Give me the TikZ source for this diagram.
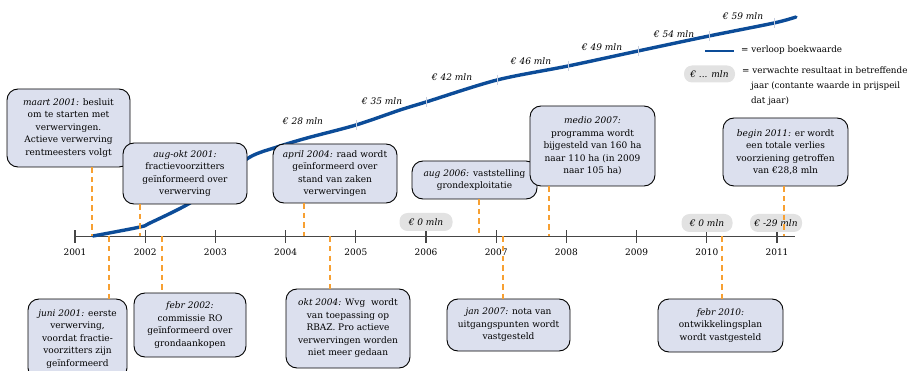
\documentclass[tikz,border=0pt]{standalone}
\usepackage{fontspec}
\setmainfont{DejaVu Serif}
\usepackage{xcolor}
\usetikzlibrary{positioning, calc}
\definecolor{boxfill}{RGB}{220,224,238}
\definecolor{pillgrey}{RGB}{226,226,226}
\definecolor{dashorange}{RGB}{247,160,50}
\definecolor{bookblue}{RGB}{12,76,152}
\definecolor{axisgrey}{RGB}{70,70,70}
\definecolor{ticklight}{RGB}{200,206,222}
\newcommand{\evfont}{\fontsize{9}{12.5}\selectfont}
\newcommand{\legfont}{\fontsize{8.8}{15}\selectfont}
\tikzstyle{event} = [rectangle, rounded corners=11pt, draw=black, line width=0.9pt, fill=boxfill, align=center, inner sep=0pt, font=\evfont]
\tikzstyle{pill} = [rectangle, rounded corners=8pt, fill=pillgrey, minimum height=18pt, inner sep=0pt, font=\evfont\itshape]
\tikzstyle{link} = [dashorange, line width=1.4pt, dash pattern=on 5.5pt off 4pt]
\tikzstyle{axis} = [axisgrey, line width=1.3pt]
\tikzstyle{growth} = [bookblue, line width=3.4pt]
\tikzstyle{bwlabel} = [inner sep=0pt, font=\evfont\itshape]
\tikzstyle{year} = [inner sep=0pt, font=\evfont]

\begin{document}
\begin{tikzpicture}[x=1pt, y=-1pt]
    \useasboundingbox (0,0) rectangle (912,371);

    % Time axis
    \coordinate (axstart) at (75,236.5);
    \coordinate (axend) at (795,236.5);
    \draw [axis] (axstart) -- (axend);
    \foreach \yr [count=\i from 0] in {2001,...,2011} {
        \coordinate (y\yr) at ({75+70.2*\i},236.5);
        \draw [axis] ($(y\yr)+(0,-6)$) -- ($(y\yr)+(0,6.5)$);
        \node (lbl\yr) [year, below=12.5pt of y\yr] {\yr};
    }

    % Book value
    \draw [growth, line cap=round] plot [smooth, tension=0.5] coordinates {(93,236) (140,227) (150,223) (190,203) (220,180) (250,157) (277,147) (307,138) (356,125) (400,110) (426,102) (497,80) (568,66) (638,51) (709,36) (774,23) (796,17)};
    \draw [ticklight, line width=0.8pt] (356,120) -- (356,130);
    \draw [ticklight, line width=0.8pt] (426,97) -- (426,107);
    \draw [ticklight, line width=0.8pt] (497,75) -- (497,85);
    \draw [ticklight, line width=0.8pt] (568,61) -- (568,71);
    \draw [ticklight, line width=0.8pt] (638,46) -- (638,56);
    \draw [ticklight, line width=0.8pt] (709,31) -- (709,41);
    \draw [ticklight, line width=0.8pt] (774,18) -- (774,28);
    \node (bw2005) [bwlabel] at (303,121) {€ 28 mln};
    \node (bw2006) [bwlabel] at (382,101) {€ 35 mln};
    \node (bw2007) [bwlabel] at (452,77) {€ 42 mln};
    \node (bw2008) [bwlabel] at (531,61) {€ 46 mln};
    \node (bw2009) [bwlabel] at (602,47) {€ 49 mln};
    \node (bw2010) [bwlabel] at (674,34) {€ 54 mln};
    \node (bw2011) [bwlabel] at (743,16) {€ 59 mln};

    % Expected result
    \node (res2006) [pill, minimum width=53pt] at (426,222) {€ 0 mln};
    \node (res2010) [pill, minimum width=51pt] at (707,223) {€ 0 mln};
    \node (res2011) [pill, minimum width=52pt] at (776,223) {€ -29 mln};

    % Events above the axis
    \node (maart01) [event, minimum width=123pt, minimum height=78pt] at (68.5,128) {\textit{maart 2001:} besluit\\om te starten met\\verwervingen.\\Actieve verwerving\\rentmeesters volgt};
    \node (augokt01) [event, minimum width=124pt, minimum height=61pt] at (185,173.5) {\textit{aug-okt 2001:}\\fractievoorzitters\\geïnformeerd over\\verwerving};
    \node (april04) [event, minimum width=124pt, minimum height=59pt] at (335,173.5) {\textit{april 2004:} raad wordt\\geïnformeerd over\\stand van zaken\\verwervingen};
    \node (aug06) [event, minimum width=125pt, minimum height=38pt] at (474.5,180) {\textit{aug 2006:} vaststelling\\grondexploitatie};
    \node (medio07) [event, minimum width=125pt, minimum height=80pt] at (592.5,146) {\textit{medio 2007:}\\programma wordt\\bijgesteld van 160 ha\\naar 110 ha (in 2009\\naar 105 ha)};
    \node (begin11) [event, minimum width=125pt, minimum height=68pt] at (785.5,152) {\textit{begin 2011:} er wordt\\een totale verlies\\voorziening getroffen\\van €28,8 mln};

    % Events below the axis
    \node (juni01) [event, minimum width=99pt, minimum height=80pt] at (77.5,339) {\textit{juni 2001:} eerste\\verwerving,\\voordat fractie-\\voorzitters zijn\\geïnformeerd};
    \node (febr02) [event, minimum width=112pt, minimum height=64pt] at (190,325) {\textit{febr 2002:}\\commissie RO\\geïnformeerd over\\grondaankopen};
    \node (okt04) [event, minimum width=124pt, minimum height=79pt] at (348,328.5) {\textit{okt 2004:} Wvg\ \ wordt\\van toepassing op\\RBAZ. Pro actieve\\verwervingen worden\\niet meer gedaan};
    \node (jan07) [event, minimum width=123pt, minimum height=52pt] at (508.5,325) {\textit{jan 2007:} nota van\\uitgangspunten wordt\\vastgesteld};
    \node (febr10) [event, minimum width=125pt, minimum height=53pt] at (720.5,325.5) {\textit{febr 2010:}\\ontwikkelingsplan\\wordt vastgesteld};

    % Dashed links to the axis
    \coordinate (t-maart01) at (92,236.5);
    \coordinate (t-augokt01) at (140,236.5);
    \coordinate (t-juni01) at (109,236.5);
    \coordinate (t-febr02) at (162,236.5);
    \coordinate (t-april04) at (304,236.5);
    \coordinate (t-okt04) at (330,236.5);
    \coordinate (t-aug06) at (479,236.5);
    \coordinate (t-jan07) at (503,236.5);
    \coordinate (t-medio07) at (549,236.5);
    \coordinate (t-febr10) at (722,236.5);
    \coordinate (t-begin11) at (784,236.5);
    \draw [link] (t-maart01 |- maart01.south) -- (t-maart01);
    \draw [link] (t-augokt01 |- augokt01.south) -- (t-augokt01);
    \draw [link] (t-april04 |- april04.south) -- (t-april04);
    \draw [link] (t-aug06 |- aug06.south) -- (t-aug06);
    \draw [link] (t-medio07 |- medio07.south) -- (t-medio07);
    \draw [link] (t-begin11 |- begin11.south) -- (t-begin11);
    \draw [link] (t-juni01) -- (t-juni01 |- juni01.north);
    \draw [link] (t-febr02) -- (t-febr02 |- febr02.north);
    \draw [link] (t-okt04) -- (t-okt04 |- okt04.north);
    \draw [link] (t-jan07) -- (t-jan07 |- jan07.north);
    \draw [link] (t-febr10) -- (t-febr10 |- febr10.north);

    % Legend
    \coordinate (leg-a) at (705,51);
    \coordinate (leg-b) at (734,51);
    \draw [growth, line width=2.6pt] (leg-a) -- (leg-b);
    \node (legline) [inner sep=0pt, anchor=west, font=\legfont] at (741,50) {= verloop boekwaarde};
    \node (legpill) [pill, minimum width=51pt, minimum height=17pt] at (709.5,74) {€ ... mln};
    \node (legpilltxt) [inner sep=0pt, anchor=north west, align=left, font=\legfont] at (742,67) {= verwachte resultaat in betreffende\\\phantom{=\,}jaar (contante waarde in prijspeil\\\phantom{=\,}dat jaar)};
\end{tikzpicture}
\end{document}
